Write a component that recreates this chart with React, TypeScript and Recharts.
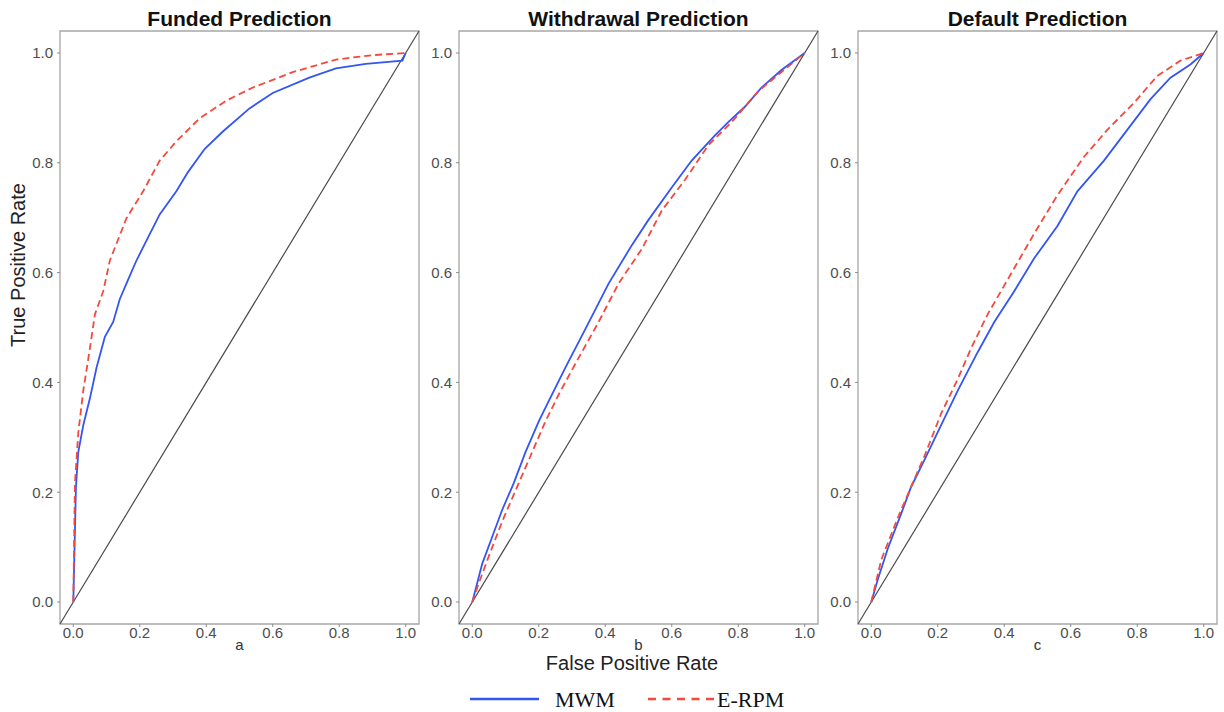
import {
  LineChart,
  Line,
  XAxis,
  YAxis,
  ReferenceLine,
  ReferenceArea,
} from "recharts";

// ROC curves (false positive rate, true positive rate)
const fundedMwmFpr = [0, 0.008, 0.015, 0.03, 0.05, 0.07, 0.095, 0.12, 0.14, 0.165, 0.19, 0.225, 0.26, 0.31, 0.345, 0.395, 0.45, 0.53, 0.6, 0.71, 0.79, 0.88, 0.99, 1.0];
const fundedMwmTpr = [0, 0.21, 0.273, 0.322, 0.371, 0.427, 0.483, 0.51, 0.552, 0.587, 0.622, 0.664, 0.706, 0.748, 0.783, 0.825, 0.857, 0.899, 0.927, 0.955, 0.972, 0.98, 0.986, 1.0];
const fundedErpmFpr = [0, 0.005, 0.015, 0.03, 0.05, 0.065, 0.09, 0.11, 0.16, 0.21, 0.26, 0.31, 0.38, 0.46, 0.54, 0.66, 0.79, 0.9, 1.0];
const fundedErpmTpr = [0, 0.217, 0.308, 0.385, 0.462, 0.524, 0.566, 0.622, 0.699, 0.748, 0.804, 0.839, 0.881, 0.913, 0.937, 0.965, 0.988, 0.996, 1.0];

const withdrawalMwmFpr = [0, 0.015, 0.03, 0.06, 0.09, 0.125, 0.16, 0.2, 0.225, 0.28, 0.34, 0.41, 0.48, 0.53, 0.6, 0.66, 0.73, 0.77, 0.82, 0.87, 0.93, 1.0];
const withdrawalMwmTpr = [0, 0.035, 0.07, 0.119, 0.168, 0.217, 0.273, 0.329, 0.36, 0.427, 0.497, 0.58, 0.65, 0.696, 0.755, 0.804, 0.85, 0.874, 0.902, 0.937, 0.969, 1.0];
const withdrawalErpmFpr = [0, 0.02, 0.05, 0.09, 0.13, 0.17, 0.22, 0.26, 0.31, 0.38, 0.44, 0.51, 0.57, 0.64, 0.71, 0.78, 0.86, 0.93, 1.0];
const withdrawalErpmTpr = [0, 0.035, 0.084, 0.147, 0.203, 0.259, 0.329, 0.378, 0.434, 0.51, 0.58, 0.643, 0.713, 0.769, 0.832, 0.874, 0.93, 0.965, 1.0];

const defaultMwmFpr = [0, 0.02, 0.05, 0.09, 0.12, 0.16, 0.21, 0.26, 0.32, 0.37, 0.43, 0.49, 0.56, 0.62, 0.7, 0.77, 0.84, 0.9, 0.96, 1.0];
const defaultMwmTpr = [0, 0.042, 0.098, 0.161, 0.21, 0.259, 0.322, 0.385, 0.455, 0.51, 0.566, 0.626, 0.685, 0.748, 0.804, 0.86, 0.916, 0.955, 0.979, 1.0];
const defaultErpmFpr = [0, 0.03, 0.08, 0.12, 0.16, 0.21, 0.26, 0.3, 0.35, 0.41, 0.49, 0.56, 0.64, 0.71, 0.79, 0.86, 0.93, 1.0];
const defaultErpmTpr = [0, 0.077, 0.154, 0.21, 0.266, 0.343, 0.406, 0.462, 0.524, 0.587, 0.671, 0.741, 0.811, 0.86, 0.909, 0.958, 0.986, 1.0];

const panelTitles = ["Funded Prediction", "Withdrawal Prediction", "Default Prediction"];
const panelTags = ["a", "b", "c"];
const rateTicks = [0, 0.2, 0.4, 0.6, 0.8, 1.0];
const rateDomain = [-0.04, 1.04];

const BLUE = "#3355f2";
const RED = "#f4493c";
const FONT = "'Liberation Sans', Arial, Helvetica, sans-serif";

const zip = (fpr: number[], tpr: number[]) =>
  fpr.map((f, i) => ({ fpr: f, tpr: tpr[i] }));

const panels = [
  { mwm: zip(fundedMwmFpr, fundedMwmTpr), erpm: zip(fundedErpmFpr, fundedErpmTpr) },
  { mwm: zip(withdrawalMwmFpr, withdrawalMwmTpr), erpm: zip(withdrawalErpmFpr, withdrawalErpmTpr) },
  { mwm: zip(defaultMwmFpr, defaultMwmTpr), erpm: zip(defaultErpmFpr, defaultErpmTpr) },
];

const PANEL_LEFT = [60, 459, 858];
const PANEL_W = 359;
const Y_AXIS_W = 45;

function RocPanel({ index }: { index: number }) {
  const p = panels[index];
  const tickStyle = { fontSize: 15, fill: "#4d4d4d", fontFamily: FONT };
  return (
    <div style={{ position: "absolute", left: PANEL_LEFT[index] - Y_AXIS_W, top: 0 }}>
      <LineChart
        width={PANEL_W + Y_AXIS_W + 5}
        height={712}
        margin={{ top: 31, right: 5, bottom: 0, left: 0 }}
      >
        <XAxis
          type="number"
          dataKey="fpr"
          domain={rateDomain}
          ticks={rateTicks}
          allowDataOverflow
          height={88}
          axisLine={false}
          tickSize={3}
          tickMargin={0}
          tickLine={{ stroke: "#8c8c8c" }}
          tick={tickStyle}
          tickFormatter={(v: number) => v.toFixed(1)}
          label={{
            value: panelTags[index],
            position: "insideTop",
            offset: 15,
            style: { fontSize: 15, fill: "#333", fontFamily: FONT },
          }}
        />
        <YAxis
          type="number"
          dataKey="tpr"
          domain={rateDomain}
          ticks={rateTicks}
          allowDataOverflow
          width={Y_AXIS_W}
          axisLine={false}
          tickSize={3}
          tickMargin={4}
          tickLine={{ stroke: "#8c8c8c" }}
          tick={tickStyle}
          tickFormatter={(v: number) => v.toFixed(1)}
        />
        <ReferenceArea
          x1={rateDomain[0]}
          x2={rateDomain[1]}
          y1={rateDomain[0]}
          y2={rateDomain[1]}
          fill="none"
          stroke="#a6a6a6"
          strokeWidth={1.3}
          ifOverflow="visible"
        />
        <ReferenceLine
          segment={[
            { x: rateDomain[0], y: rateDomain[0] },
            { x: rateDomain[1], y: rateDomain[1] },
          ]}
          stroke="#4a4a4a"
          strokeWidth={1.2}
          ifOverflow="visible"
        />
        <Line
          data={p.mwm}
          dataKey="tpr"
          type="linear"
          stroke={BLUE}
          strokeWidth={1.8}
          dot={false}
          isAnimationActive={false}
        />
        <Line
          data={p.erpm}
          dataKey="tpr"
          type="linear"
          stroke={RED}
          strokeWidth={1.8}
          strokeDasharray="7 4"
          dot={false}
          isAnimationActive={false}
        />
      </LineChart>
    </div>
  );
}

export default function App() {
  return (
    <div
      style={{
        position: "absolute",
        left: 0,
        top: 0,
        width: 1224,
        height: 712,
        background: "#fff",
        overflow: "hidden",
      }}
    >
      {panels.map((_, i) => (
        <RocPanel key={i} index={i} />
      ))}
      <svg
        width={1224}
        height={712}
        style={{ position: "absolute", left: 0, top: 0, pointerEvents: "none" }}
      >
        {panelTitles.map((t, i) => (
          <text
            key={t}
            x={PANEL_LEFT[i] + PANEL_W / 2}
            y={26}
            textAnchor="middle"
            fontFamily={FONT}
            fontWeight="bold"
            fontSize={21}
            fill="#111"
          >
            {t}
          </text>
        ))}
        <text
          x={632}
          y={670}
          textAnchor="middle"
          fontFamily={FONT}
          fontSize={20}
          fill="#222"
        >
          False Positive Rate
        </text>
        <text
          x={25}
          y={265}
          textAnchor="middle"
          fontFamily={FONT}
          fontSize={20}
          fill="#222"
          transform="rotate(-90 25 265)"
        >
          True Positive Rate
        </text>
        <line x1={470} x2={539} y1={699} y2={699} stroke={BLUE} strokeWidth={2.5} />
        <text x={555} y={707} fontFamily="'Liberation Serif', 'Times New Roman', serif" fontSize={22} fill="#111">
          MWM
        </text>
        <line
          x1={648}
          x2={717}
          y1={699}
          y2={699}
          stroke={RED}
          strokeWidth={2.5}
          strokeDasharray="8 6.5"
        />
        <text x={717} y={707} fontFamily="'Liberation Serif', 'Times New Roman', serif" fontSize={22} fill="#111">
          E-RPM
        </text>
      </svg>
    </div>
  );
}
